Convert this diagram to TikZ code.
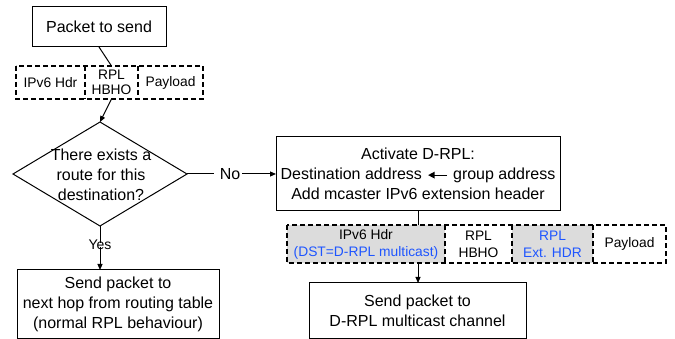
\documentclass[tikz,border=0pt]{standalone}
\usepackage{fontspec}
\setmainfont{Liberation Sans}
\usetikzlibrary{arrows.meta}
\definecolor{lblue}{RGB}{30,85,255}
\definecolor{lgray}{RGB}{220,220,220}
\newcommand{\larrowmark}{\hspace{1pt}\tikz[baseline=0pt,x=1pt,y=1pt]\draw[line width=1.2pt,-{Triangle[length=6.5pt,width=6.5pt]}] (19,4.6) -- (0,4.6);\hspace{1pt}}
\begin{document}
\begin{tikzpicture}[x=1pt,y=-1pt,
  every node/.style={inner sep=0pt, outer sep=0pt, align=center},
  mainfont/.style={font=\fontsize{16}{20}\selectfont},
  box/.style={draw, line width=1pt, mainfont},
  seg/.style={minimum height=33pt, font=\fontsize{13.8}{17}\selectfont},
  dashline/.style={line width=1.3pt, dash pattern=on 5pt off 3pt},
  conn/.style={line width=1pt},
  arr/.style={line width=1pt, -{Triangle[length=6pt,width=5pt]}},
]
\useasboundingbox (0,0) rectangle (675,339);

% top box
\node[box, minimum width=134pt, minimum height=40pt] (pkt) at (99,27) {Packet to send};

% strip 1
\node[seg, minimum width=69pt] (s1a) at (50.5,82.5) {IPv6 Hdr};
\node[seg, minimum width=53pt, font=\fontsize{13.8}{15.5}\selectfont] (s1b) at (111.5,82.5) {RPL\\HBHO};
\node[seg, minimum width=65pt] (s1c) at (170.5,82.5) {Payload};
\draw[dashline] (s1a.north west) rectangle (s1c.south east);
\draw[dashline] (s1a.north east) -- (s1a.south east);
\draw[dashline] (s1b.north east) -- (s1b.south east);

% diamond
\coordinate (dtop) at (100,122);
\coordinate (dright) at (187,174);
\coordinate (dbot) at (100,226);
\coordinate (dleft) at (13,174);
\draw[conn] (dtop) -- (dright) -- (dbot) -- (dleft) -- cycle;
\node[mainfont] (dtext) at (101,175) {There exists a\\route for this\\destination?};

% activate box
\node[box, minimum width=284pt, minimum height=74pt] (act) at (418,174) {Activate D-RPL:\\Destination address \larrowmark{} group address\\Add mcaster IPv6 extension header};

% No label
\node[mainfont] (no) at (230,174) {No};
\draw[conn] (dright) -- ([xshift=-6pt]no.west);
\draw[arr] ([xshift=2pt]no.east) -- (act.west);

% strip 2
\node[seg, minimum height=38pt, fill=lgray, minimum width=158pt] (s2a) at (366,244) {IPv6 Hdr\\\textcolor{lblue}{(DST=D-RPL multicast)}};
\node[seg, minimum height=38pt, minimum width=67pt] (s2b) at (478.5,244) {RPL\\HBHO};
\node[seg, minimum height=38pt, fill=lgray, minimum width=81pt, text=lblue] (s2c) at (552.5,244) {RPL\\Ext. HDR};
\node[seg, minimum height=38pt, minimum width=73pt] (s2d) at (629.5,244) {Payload};
\draw[dashline] (s2a.north west) rectangle (s2d.south east);
\draw[dashline] (s2a.north east) -- (s2a.south east);
\draw[dashline] (s2b.north east) -- (s2b.south east);
\draw[dashline] (s2c.north east) -- (s2c.south east);

% bottom right box
\node[box, minimum width=217pt, minimum height=55pt] (mc) at (417.5,310.5) {Send packet to\\D-RPL multicast channel};

% Yes
\node[font=\fontsize{14}{17}\selectfont] (yes) at (100,245) {Yes};

% bottom left box
\node[box, minimum width=202pt, minimum height=68pt] (nh) at (118,304) {Send packet to\\next hop from routing table\\(normal RPL behaviour)};

% connectors
\draw[conn] (pkt.south) -- (s1b.north);
\draw[arr] (s1b.south) -- (dtop);
\draw[conn] (dbot) -- ([yshift=-3pt]yes.north);
\draw[arr] ([yshift=3pt]yes.south) -- (nh.north -| dbot);
\draw[conn] (act.south) -- (act.south |- s2a.north);
\draw[arr] (act.south |- s2a.south) -- (mc.north -| act.south);
\end{tikzpicture}
\end{document}
